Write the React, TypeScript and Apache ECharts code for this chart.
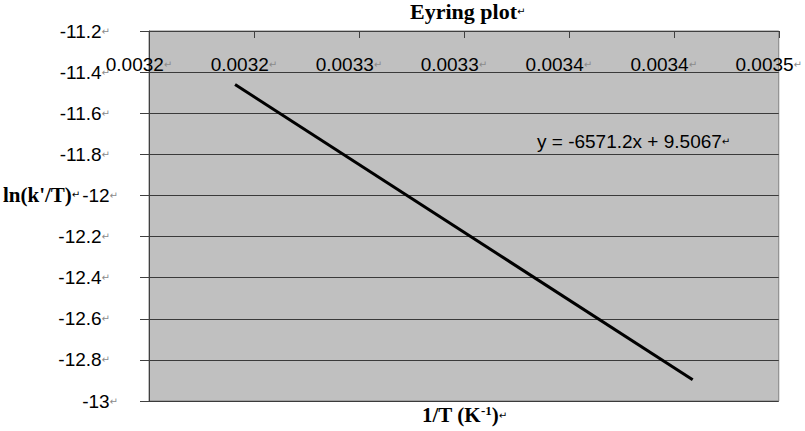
import React, { useEffect, useRef } from "react";
import * as echarts from "echarts";

const xTickLabels = ["0.0032", "0.0032", "0.0033", "0.0033", "0.0034", "0.0034", "0.0035"];
const xMin = 0.00315;
const xMax = 0.00345;
const xStep = 0.00005;
const yMin = -13;
const yMax = -11.2;
const yStep = 0.2;
const lineX = [0.003191, 0.003409];
const lineY = [-11.46, -12.897];
const titleText = "Eyring plot";
const yNameText = "ln(k'/T)";
const equationText = "y = -6571.2x + 9.5067";

const SANS = "'Liberation Sans', Arial, sans-serif";
const SERIF = "'Liberation Serif', 'Times New Roman', serif";
const MARK = { fontSize: 10, color: "#8a8a8a", fontFamily: "'DejaVu Sans', sans-serif" };

export default function App() {
  const ref = useRef<HTMLDivElement>(null);
  useEffect(() => {
    if (!ref.current) return;
    const chart = echarts.init(ref.current, null, { renderer: "svg" });
    const option: any = {
      animation: false,
      backgroundColor: "#ffffff",
      grid: {
        left: 149,
        top: 31,
        width: 636,
        height: 370,
        show: true,
        backgroundColor: "#C0C0C0",
        borderColor: "#808080",
        borderWidth: 1,
      },
      xAxis: {
        type: "value",
        position: "top",
        min: xMin,
        max: xMax,
        interval: xStep,
        axisLine: { show: true, lineStyle: { color: "#404040", width: 1 } },
        axisTick: { show: true, inside: true, length: 7, lineStyle: { color: "#404040" } },
        splitLine: { show: false },
        axisLabel: {
          inside: true,
          margin: 24,
          padding: [0, 20, 0, 0],
          formatter: (v: number) => {
            const i = Math.round((v - xMin) / xStep);
            return "{a|" + (xTickLabels[i] ?? "") + "}{m|↵}";
          },
          rich: {
            a: { fontSize: 19, color: "#000", fontFamily: SANS },
            m: MARK,
          },
        },
      },
      yAxis: {
        type: "value",
        min: yMin,
        max: yMax,
        interval: yStep,
        axisLine: { show: true, lineStyle: { color: "#404040", width: 1 } },
        axisTick: { show: true, inside: false, length: 9, lineStyle: { color: "#404040" } },
        splitLine: { show: true, lineStyle: { color: "#3a3a3a", width: 1 } },
        axisLabel: {
          margin: 31,
          formatter: (v: number) => {
            const r = Math.round(v * 10) / 10;
            const isInt = Number.isInteger(r);
            return "{a|" + String(r) + "}{" + (isInt ? "m" : "p") + "|↵}";
          },
          rich: {
            a: { fontSize: 19, color: "#000", fontFamily: SANS },
            m: MARK,
            p: { ...MARK, padding: [0, 8, 0, 0] },
          },
        },
      },
      series: [
        {
          type: "line",
          data: lineX.map((x, i) => [x, lineY[i]]),
          showSymbol: false,
          symbol: "none",
          lineStyle: { color: "#000", width: 3 },
        },
      ],
      graphic: [
        {
          type: "text",
          left: 410,
          top: 0,
          style: {
            text: "{t|" + titleText + "}{m|↵}",
            rich: {
              t: { fontSize: 22, fontWeight: "bold", fill: "#000", fontFamily: SERIF },
              m: MARK,
            },
          },
        },
        {
          type: "text",
          left: 3,
          top: 184,
          style: {
            text: "{t|" + yNameText + "}{m|↵}",
            rich: {
              t: { fontSize: 21, fontWeight: "bold", fill: "#000", fontFamily: SERIF },
              m: MARK,
            },
          },
        },
        {
          type: "text",
          left: 422,
          top: 404,
          style: {
            text: "{t|1/T (K}{s|-1}{t|)}{m|↵}",
            rich: {
              t: { fontSize: 21, fontWeight: "bold", fill: "#000", fontFamily: SERIF },
              s: { fontSize: 13, fontWeight: "bold", fill: "#000", fontFamily: SERIF, padding: [0, 0, 9, 0] },
              m: MARK,
            },
          },
        },
        {
          type: "text",
          left: 537,
          top: 132,
          style: {
            text: "{t|" + equationText + "}{m|↵}",
            rich: {
              t: { fontSize: 19, fill: "#000", fontFamily: SANS },
              m: MARK,
            },
          },
        },
      ],
    };
    chart.setOption(option);
    return () => chart.dispose();
  }, []);
  return (
    <div
      ref={ref}
      style={{ position: "fixed", left: 0, top: 0, width: 805, height: 431 }}
    />
  );
}
